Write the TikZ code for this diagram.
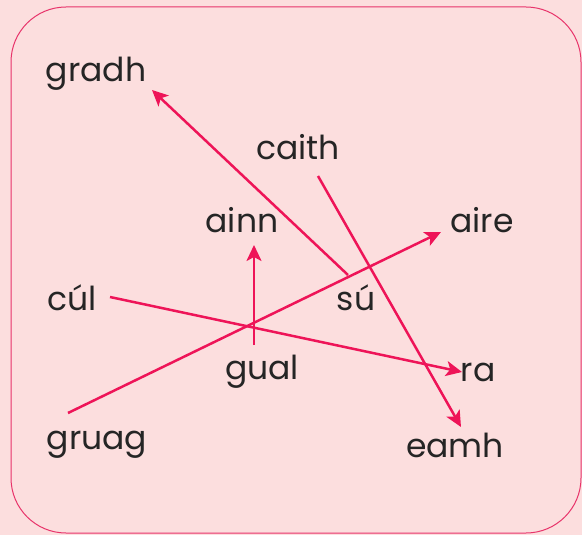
\documentclass[tikz,border=0pt]{standalone}
\usepackage{fontspec}
\setmainfont{Poppins}
\usetikzlibrary{arrows.meta}
\definecolor{bgpink}{HTML}{FCDEDE}
\definecolor{edgepink}{HTML}{E8336A}
\definecolor{arrowpink}{HTML}{EE1458}
\definecolor{txt}{HTML}{252525}
\begin{document}
\begin{tikzpicture}[x=1pt,y=-1pt,
  word/.style={text=txt,font=\fontsize{33}{36}\selectfont,inner sep=0pt},
  link/.style={draw=arrowpink,line width=2.5pt},
  linkarrow/.style={link,-{Stealth[length=16pt,width=15pt,inset=4pt]}}]
\useasboundingbox (0,0) rectangle (582,535);
\fill[bgpink] (0,0) rectangle (582,535);
\draw[edgepink,line width=1pt,rounded corners=55pt] (11,7) rectangle (581,533);
\node[word] (gradh) at (96,74) {gradh};
\node[word] (caith) at (298,147) {caith};
\node[word] (ainn) at (242,220) {ainn};
\node[word] (aire) at (482,220) {aire};
\node[word] (cul) at (72,298) {cúl};
\node[word] (su) at (356,298) {sú};
\node[word] (gual) at (262,372) {gual};
\node[word] (ra) at (478,372) {ra};
\node[word] (gruag) at (97,445) {gruag};
\node[word] (eamh) at (455,445) {eamh};
\coordinate (suS) at (348,275);
\coordinate (gradhE) at (152,90);
\coordinate (caithS) at (318,176);
\coordinate (eamhE) at (461,427);
\coordinate (gruagS) at (68,413);
\coordinate (aireE) at (441,232);
\coordinate (culS) at (110,297);
\coordinate (raE) at (462,372);
\coordinate (gualS) at (254,345);
\coordinate (ainnE) at (254,245);
\draw[linkarrow] (suS) -- (gradhE);
\draw[linkarrow] (caithS) -- (eamhE);
\draw[linkarrow] (gruagS) -- (aireE);
\draw[linkarrow] (culS) -- (raE);
\draw[linkarrow] (gualS) -- (ainnE);
\end{tikzpicture}
\end{document}
